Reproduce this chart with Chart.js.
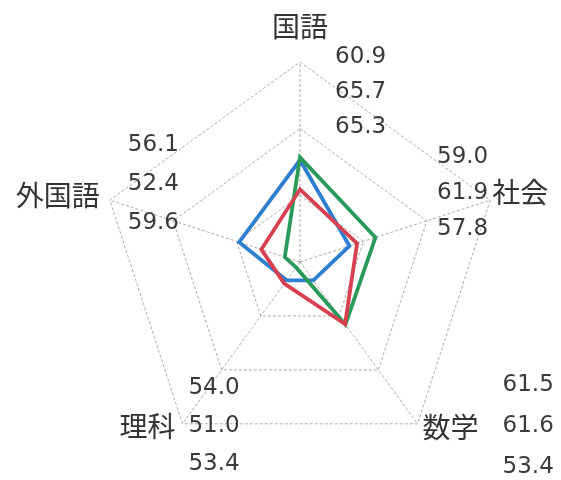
<!DOCTYPE html>
<html>
<head>
<meta charset="utf-8">
<script src="https://cdn.jsdelivr.net/npm/chart.js@4"></script>
<style>
  html, body { margin: 0; padding: 0; background: #fff; }
  #wrap { width: 561px; height: 480px; }
</style>
</head>
<body>
<div id="wrap"><canvas id="myChart"></canvas></div>
<script>
// 教科ごとの平均点
let subjects = ['国語', '社会', '数学', '理科', '外国語'];
let scoresRed = [60.9, 59.0, 61.5, 54.0, 56.1];
let scoresGreen = [65.7, 61.9, 61.6, 51.0, 52.4];
let scoresBlue = [65.3, 57.8, 53.4, 53.4, 59.6];
let axisMin = 50, axisMax = 80, axisStep = 10;

let series = [
  { label: 'A', data: scoresRed, color: '#d8404f' },
  { label: 'B', data: scoresGreen, color: '#2a9a5a' },
  { label: 'C', data: scoresBlue, color: '#2e7fd0' }
];

// 各軸の項目名と値ラベルの置き方（頂点からのずれ）
let labelLayout = [
  { name: [0, -36, 'center'], nums: [35, -5, 35, 'left'] },
  { name: [2, -8, 'left'], nums: [-2, -43, 36, 'right'] },
  { name: [5, 4, 'left'], nums: [85, -39, 41, 'left'] },
  { name: [-7, 3, 'right'], nums: [6, -36, 38, 'left'] },
  { name: [-10, -5, 'right'], nums: [18, -55, 39, 'left'] }
];

let radarLabels = {
  id: 'radarLabels',
  afterDraw: (chart) => {
    const ctx = chart.ctx;
    const scale = chart.scales.r;
    ctx.save();
    ctx.textBaseline = 'middle';
    subjects.forEach((name, i) => {
      const p = scale.getPointPosition(i, scale.drawingArea);
      const lay = labelLayout[i];
      ctx.fillStyle = '#333';
      ctx.font = '28px "Noto Sans CJK JP"';
      ctx.textAlign = lay.name[2];
      ctx.fillText(name, p.x + lay.name[0], p.y + lay.name[1]);

      ctx.fillStyle = '#3a3a3a';
      ctx.font = '23px "DejaVu Sans"';
      ctx.textAlign = lay.nums[3];
      chart.data.datasets.forEach((ds, k) => {
        ctx.fillText(ds.data[i].toFixed(1), p.x + lay.nums[0], p.y + lay.nums[1] + k * lay.nums[2]);
      });
    });
    ctx.restore();
  }
};

const chart = new Chart(document.getElementById('myChart'), {
  type: 'radar',
  data: {
    labels: subjects,
    datasets: series.map((s) => ({
      label: s.label,
      data: s.data,
      borderColor: s.color,
      borderWidth: 3.8,
      fill: false,
      pointRadius: 0,
      tension: 0
    }))
  },
  options: {
    responsive: true,
    maintainAspectRatio: false,
    animation: false,
    layout: { padding: { left: 100, right: 61, top: 62, bottom: 18 } },
    plugins: {
      legend: { display: false },
      tooltip: { enabled: false }
    },
    scales: {
      r: {
        min: axisMin,
        max: axisMax,
        ticks: { display: false, stepSize: axisStep },
        pointLabels: { display: false },
        grid: { color: '#ababab', lineWidth: 1 },
        border: { dash: [3, 2] },
        angleLines: { color: '#ababab', lineWidth: 1, borderDash: [3, 2] }
      }
    }
  },
  plugins: [radarLabels]
});
</script>
</body>
</html>
